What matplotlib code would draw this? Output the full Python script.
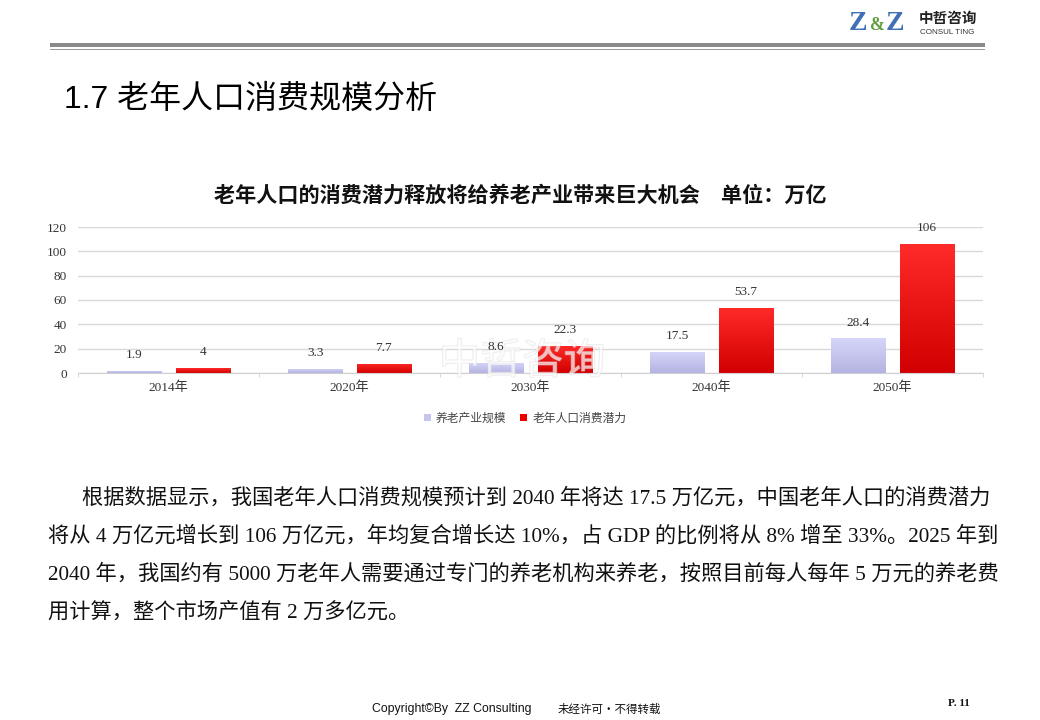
import matplotlib
matplotlib.use("Agg")
import matplotlib.pyplot as plt
import matplotlib.patheffects as pe
from matplotlib.colors import LinearSegmentedColormap
from matplotlib.patches import Rectangle
import numpy as np

# ---------------------------------------------------------
# Data
# ---------------------------------------------------------
years = ["2014年", "2020年", "2030年", "2040年", "2050年"]
industry_scale = [1.9, 3.3, 8.6, 17.5, 28.4]      # 养老产业规模
consumption = [4, 7.7, 22.3, 53.7, 106]            # 老年人口消费潜力
series_names = ["养老产业规模", "老年人口消费潜力"]
y_ticks = [0, 20, 40, 60, 80, 100, 120]

page_title = "1.7 老年人口消费规模分析"
chart_title = "老年人口的消费潜力释放将给养老产业带来巨大机会　单位：万亿"
body_lines = [
    "根据数据显示，我国老年人口消费规模预计到 2040 年将达 17.5 万亿元，中国老年人口的消费潜力",
    "将从 4 万亿元增长到 106 万亿元，年均复合增长达 10%，占 GDP 的比例将从 8% 增至 33%。2025 年到",
    "2040 年，我国约有 5000 万老年人需要通过专门的养老机构来养老，按照目前每人每年 5 万元的养老费",
    "用计算，整个市场产值有 2 万多亿元。",
]

W, H = 1040, 720
SERIF = ["Liberation Serif", "Noto Sans CJK SC"]
SANS = ["Liberation Sans", "Noto Sans CJK SC"]
CJK = ["Noto Sans CJK SC", "DejaVu Sans"]


def fx(x):
    return x / W


def fy(y):
    return 1 - y / H


fig = plt.figure(figsize=(10.4, 7.2), dpi=100)
fig.patch.set_facecolor("white")

# ---------------------------------------------------------
# Header: logo and rules
# ---------------------------------------------------------
logo_font = ["Liberation Serif"]
fig.text(fx(849), fy(24), "Z", fontsize=20, fontweight="bold", color="#3f6fb5",
         family=logo_font, va="center", ha="left")
fig.text(fx(870), fy(26), "&", fontsize=13, fontweight="bold", color="#5e9e3c",
         family=logo_font, va="center", ha="left")
fig.text(fx(886), fy(24), "Z", fontsize=20, fontweight="bold", color="#3f6fb5",
         family=logo_font, va="center", ha="left")
fig.text(fx(919), fy(18), "中哲咨询", fontsize=10.5, fontweight="bold", color="#222222",
         family=CJK, va="center", ha="left")
fig.text(fx(920), fy(32), "CONSUL TING", fontsize=5.8, color="#333333",
         family=["Liberation Sans"], va="center", ha="left")

fig.add_artist(Rectangle((fx(50), fy(47)), fx(935), 4 / H, transform=fig.transFigure,
                         facecolor="#8a8a8a", edgecolor="none"))
fig.add_artist(Rectangle((fx(50), fy(50)), fx(935), 1.2 / H, transform=fig.transFigure,
                         facecolor="#9a9a9a", edgecolor="none"))

fig.text(fx(64), fy(100), page_title, fontsize=23, color="black", family=SANS,
         va="center", ha="left")

# ---------------------------------------------------------
# Chart
# ---------------------------------------------------------
fig.text(fx(520), fy(195), chart_title, fontsize=15.2, fontweight="bold", color="#111111",
         family=CJK, va="center", ha="center")

ax = fig.add_axes([fx(78), fy(373), fx(905), 146 / H])
x = np.arange(len(years))
bw = 0.3
off = 0.19
bars1 = ax.bar(x - off, industry_scale, bw, color="#c6c5ef", zorder=2, label=series_names[0])
bars2 = ax.bar(x + off, consumption, bw, color="#ee0000", zorder=2, label=series_names[1])

# vertical gradient fill for each bar
cm_light = LinearSegmentedColormap.from_list("light", ["#b4b3e2", "#d6d6fa"])
cm_red = LinearSegmentedColormap.from_list("red", ["#d20000", "#ff2a2a"])
grad = np.linspace(0, 1, 64).reshape(-1, 1)
for bars, cm in ((bars1, cm_light), (bars2, cm_red)):
    for b in bars:
        x0, y0 = b.get_x(), b.get_y()
        img = ax.imshow(grad, extent=[x0, x0 + b.get_width(), y0, y0 + b.get_height()],
                        origin="lower", aspect="auto", cmap=cm, zorder=2.1)
        img.set_clip_path(b)
ax.set_xlim(-0.5, len(years) - 0.5)
ax.set_ylim(0, 120)

for bars, vals in ((bars1, industry_scale), (bars2, consumption)):
    for b, v in zip(bars, vals):
        ax.annotate(f"{v:g}", (b.get_x() + b.get_width() / 2, b.get_height()),
                    xytext=(0, 7), textcoords="offset points", ha="center", va="bottom",
                    fontsize=9.5, color="#333333", family=SERIF, zorder=4)

ax.set_yticks(y_ticks)
ax.grid(axis="y", color="#d9d9d9", linewidth=1, zorder=0)
ax.set_axisbelow(True)
for s in ("top", "right", "left"):
    ax.spines[s].set_visible(False)
ax.spines["bottom"].set_color("#d0d0d0")
ax.set_xticks(x)
ax.set_xticklabels(years, family=SERIF, fontsize=9.5, color="#333333")
ax.set_xticks(np.arange(len(years) + 1) - 0.5, minor=True)
ax.tick_params(axis="x", which="major", length=0, pad=6)
ax.tick_params(axis="x", which="minor", length=3, color="#d0d0d0")
ax.tick_params(axis="y", length=0, pad=8, labelsize=9.5, labelcolor="#333333")
for lab in ax.get_yticklabels():
    lab.set_family(SERIF)

leg = ax.legend(loc="center", bbox_to_anchor=(fx(525), fy(418)), bbox_transform=fig.transFigure,
                ncol=2, frameon=False, handlelength=0.6, handleheight=0.6,
                handletextpad=0.4, columnspacing=1.2,
                prop={"family": CJK, "size": 8.5})
for t in leg.get_texts():
    t.set_color("#444444")

# watermark, above the bars but under the value labels
ax.text(fx(522), fy(362), "中哲咨询", transform=fig.transFigure, fontsize=30,
        color="white", alpha=0.45, family=CJK, va="center", ha="center", zorder=3,
        path_effects=[pe.withStroke(linewidth=1.0, foreground="#d8d8d8")])

# ---------------------------------------------------------
# Body text
# ---------------------------------------------------------
line_y = [498, 536, 574, 612]
line_x = [82, 48, 48, 48]
for txt, yy, xx in zip(body_lines, line_y, line_x):
    fig.text(fx(xx), fy(yy), txt, fontsize=15.3, color="#111111", family=SERIF,
             va="center", ha="left")

# ---------------------------------------------------------
# Footer
# ---------------------------------------------------------
fig.text(fx(372), fy(709), "Copyright©By  ZZ Consulting", fontsize=8.8, color="#111111",
         family=["Liberation Sans"], va="center", ha="left")
fig.text(fx(558), fy(709), "未经许可·不得转载", fontsize=8.3, color="#111111",
         family=CJK, va="center", ha="left")
fig.text(fx(948), fy(704), "P. 11", fontsize=8, fontweight="bold", color="#111111",
         family=["Liberation Serif"], va="center", ha="left")

fig.savefig("out.png", dpi=100)
